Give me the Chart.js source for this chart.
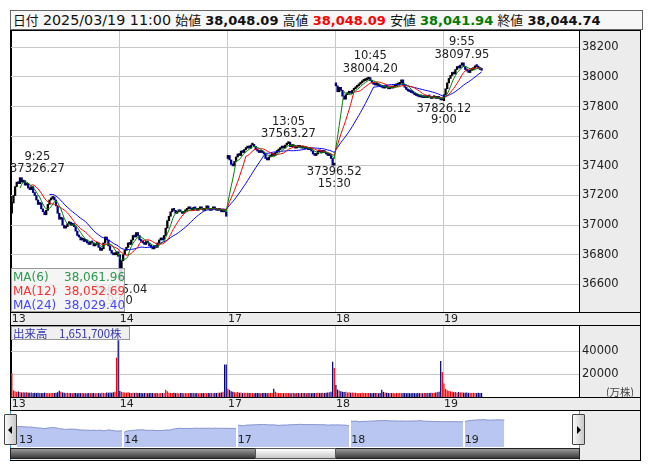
<!DOCTYPE html>
<html><head><meta charset="utf-8">
<script src="https://cdn.jsdelivr.net/npm/chart.js@4.4.1/dist/chart.umd.min.js"></script>
<style>
body{margin:0;width:653px;height:470px;background:#fff;position:relative;overflow:hidden;font-family:"DejaVu Sans","Noto Sans CJK JP",sans-serif;}
.abs{position:absolute;box-sizing:border-box;}
canvas{position:absolute;left:0;top:0;}
#hdr{left:10px;top:10px;width:633px;height:20px;border:1px solid #666;background:#f7f7f7;font-size:13.5px;line-height:18px;padding-left:2px;white-space:nowrap;color:#111;}
#hdr b{font-size:13px;}
.jp{font-family:"Noto Sans CJK JP",sans-serif;font-size:12.8px;}
.dt{font-size:14.3px;}
</style></head><body>
<div id="hdr" class="abs"><span class="jp">日付</span> <span class="dt">2025/03/19 11:00</span> <span class="jp">始値</span> <b>38,048.09</b> <span class="jp">高値</span> <b style="color:#ff0000">38,048.09</b> <span class="jp">安値</span> <b style="color:#007a00">38,041.94</b> <span class="jp">終値</span> <b>38,044.74</b></div>
<div class="abs" style="left:10px;top:30px;width:631px;height:431px;background:#ececec;border:1px solid #000"></div>
<div class="abs" style="left:11px;top:31px;width:568px;height:281px;background:#fff"></div>
<div class="abs" style="left:11px;top:326px;width:568px;height:71px;background:#fff"></div>
<div class="abs" style="left:10px;top:411px;width:570px;height:37px;background:#fff"></div>
<div class="abs" style="left:10px;top:312px;width:631px;height:1px;background:#000"></div>
<div class="abs" style="left:10px;top:325px;width:631px;height:1px;background:#000"></div>
<div class="abs" style="left:10px;top:397px;width:631px;height:1px;background:#000"></div>
<div class="abs" style="left:10px;top:410px;width:631px;height:1px;background:#000"></div>
<div class="abs" style="left:579px;top:411px;width:1px;height:49px;background:#39a0d0"></div>
<div class="abs" style="left:10px;top:411px;width:1px;height:49px;background:#39a0d0"></div>
<canvas id="cMain" width="653" height="470"></canvas>
<canvas id="cVol" width="653" height="470"></canvas>
<canvas id="cNav" width="653" height="470"></canvas>
<div class="abs" style="left:11px;top:268px;width:114px;height:44px;background:rgba(244,244,244,0.88);border:1px solid #999;font-size:12px;line-height:14px;padding:1px 0 0 1px;white-space:nowrap">
<div style="color:#2e9a4e">MA(6)<span style="position:absolute;left:52px">38,061.96</span></div>
<div style="color:#ff3030">MA(12)<span style="position:absolute;left:52px">38,052.69</span></div>
<div style="color:#4646ff">MA(24)<span style="position:absolute;left:52px">38,029.40</span></div>
</div>
<div class="abs" style="left:11px;top:326px;width:119px;height:14px;background:#f0f0f0;border:1px solid #999;font-family:'Noto Sans CJK JP',sans-serif;font-size:11.5px;line-height:12px;color:#3535b0;white-space:nowrap;padding-left:1px">出来高　1,651,700株</div>
<div class="abs" style="left:606px;top:384px;font-family:'Noto Sans CJK JP',sans-serif;font-size:10.5px;color:#444">(万株)</div>
<div class="abs" style="left:10px;top:448px;width:570px;height:11px;background:linear-gradient(#9a9a9a,#3a3a3a);border:1px solid #222"></div>
<div class="abs" style="left:255px;top:448px;width:81px;height:11px;background:linear-gradient(#ffffff,#c8c8c8);border:1px solid #555"></div>
<div class="abs" style="left:4px;top:414px;width:13px;height:31px;background:linear-gradient(90deg,#fafafa,#c8c8c8);border:1px solid #444;border-radius:1px"></div>
<div class="abs" style="left:8px;top:426px;width:0;height:0;border-top:4px solid transparent;border-bottom:4px solid transparent;border-right:4px solid #000"></div>
<div class="abs" style="left:572px;top:414px;width:13px;height:31px;background:linear-gradient(90deg,#fafafa,#c8c8c8);border:1px solid #444;border-radius:1px"></div>
<div class="abs" style="left:577px;top:426px;width:0;height:0;border-top:4px solid transparent;border-bottom:4px solid transparent;border-left:4px solid #000"></div>
<script>
// ---- data ----
const days = ['13','14','17','18','19'];
const dayOpen = [37080, 36800, 37450, 37960, 37840];
const close13 = [37150,37200,37260,37290,37280,37320,37290,37300,37270,37280,37250,37240,37260,37220,37200,37170,37140,37150,37110,37090,37070,37100,37140,37170,37180,37190,37170,37130,37080,37040,37050,37000,36980,36990,37010,37020,37000,37010,36990,36960,36930,36920,36900,36910,36890,36900,36880,36870,36890,36880,36860,36870,36880,36850,36830,36840,36880,36920,36900,36860,36830,36810,36800,36800,36820,36790];
const close14 = [36620,36760,36800,36830,36850,36880,36870,36900,36930,36920,36950,36930,36900,36890,36880,36870,36890,36880,36860,36850,36840,36860,36850,36880,36900,36910,36900,36930,36980,37030,37060,37090,37110,37100,37080,37090,37100,37090,37080,37090,37100,37110,37120,37110,37100,37120,37110,37100,37110,37120,37110,37100,37110,37130,37110,37100,37110,37120,37110,37100,37110,37100,37090,37100,37090,37060];
const close17 = [37470,37440,37410,37400,37430,37460,37480,37470,37500,37490,37510,37520,37530,37520,37540,37545,37530,37510,37500,37490,37500,37490,37480,37450,37440,37460,37470,37480,37470,37490,37500,37510,37520,37530,37520,37540,37550,37560,37530,37530,37535,37520,37530,37525,37530,37520,37525,37515,37520,37510,37520,37500,37480,37470,37480,37500,37495,37490,37500,37490,37480,37470,37475,37450,37405,37410];
const close18 = [37940,37900,37930,37910,37870,37850,37880,37890,37900,37890,37910,37920,37930,37940,37950,37960,37970,37975,37980,37985,37995,37975,37960,37950,37945,37955,37940,37935,37930,37925,37935,37930,37920,37930,37925,37935,37940,37945,37950,37960,37980,37950,37930,37915,37905,37900,37895,37890,37880,37875,37870,37865,37870,37860,37865,37860,37870,37865,37855,37860,37865,37855,37860,37855,37845,37850];
const close19 = [37880,37920,37960,37990,38010,38030,38020,38050,38070,38060,38080,38095,38070,38050,38040,38030,38045,38050,38060,38075,38070,38060,38050,38045];
const vol13 = [20900,5800,5000,4600,4800,4300,4000,4200,3900,4100,3800,3700,4000,3600,3800,3500,3700,3400,3600,3500,3800,3400,3500,3300,3600,3400,3500,3800,4200,5400,4600,4000,3800,3500,3700,3400,3600,3300,3500,3400,3300,3600,3400,3500,3300,3400,3200,3500,3300,3400,3600,3300,3500,3400,3300,3800,3600,3400,3900,3700,4000,3800,4200,4600,34500,49700];
const vol14 = [5200,4500,4200,4000,3800,4100,3700,3600,3800,3500,3700,3400,3600,3500,3300,3500,3400,3300,3600,3400,3500,3300,3400,3500,3300,3600,3500,3400,6400,5000,3800,3600,3500,3800,3400,3600,3300,3500,3400,3300,3500,3400,3300,3600,3400,3500,3300,3400,3200,3400,3300,3500,3400,3300,3600,3400,3500,3300,3600,3500,3800,3700,4000,4500,28500,28500];
const vol17 = [7300,6200,5000,4600,4200,4000,4300,3800,3900,3600,3800,3500,3700,3400,3600,3500,3300,3600,3400,3500,3300,3400,3600,3500,3300,3400,3500,3400,7300,4500,3800,3600,3400,3500,3300,3600,3400,3500,3300,3400,3600,3300,3500,3400,3300,3500,3400,3600,3300,3400,3500,3300,3600,3400,3500,3700,3400,3600,3800,3500,3700,3900,4200,4500,30900,25500];
const vol18 = [10600,6500,5600,5000,4600,4300,4500,4000,4200,3800,3900,3700,3800,3500,3600,3400,3700,3500,3400,3600,3500,3400,3300,3500,3400,3600,3300,3500,6400,4500,4000,3700,3500,3600,3400,3500,3300,3600,3400,3500,3300,3400,3600,3300,3500,3400,3300,3500,3400,3300,3600,3400,3500,3300,3400,3600,3500,3400,3700,3600,3800,4000,4300,4700,31500,21800];
const vol19 = [11800,7200,6000,5500,5000,4600,4200,4400,4000,4300,3900,4100,3800,3700,3900,3600,3800,3500,3700,3600,3400,3700,3500,3600];
const priceTicks = {min:36600, max:38200, step:200};
const volTicks = [20000, 40000];
const maPeriods = [6, 12, 24];
const annTimes  = ['9:25','9:00','13:05','15:30','10:45','9:00','9:55'];
const annPrices = ['37326.27','36605.04','37563.27','37396.52','38004.20','37826.12','38097.95'];
const annDay  = [0,1,2,2,3,4,4];
const annBar  = [5,0,37,65,21,0,11];
const annSide = ['up','down','up','down','up','down','up'];

// ---- build ----
const closeByDay = [close13, close14, close17, close18, close19];
const volByDay = [vol13, vol14, vol17, vol18, vol19];
const TOTAL = 347;
const labels = [], closes = [], opens = [], vols = [], starts = [];
closeByDay.forEach((arr, d) => {
  starts.push(closes.length);
  arr.forEach((c, j) => {
    labels.push(days[d] + '_' + j);
    opens.push(j === 0 ? dayOpen[d] : arr[j - 1]);
    closes.push(c);
    vols.push(volByDay[d][j]);
  });
});
while (labels.length < TOTAL) labels.push('');
const candles = closes.map((c, i) => [opens[i], c]);
const upDown = closes.map((c, i) => c >= opens[i]);
const candleColors = upDown.map(u => u ? '#000000' : '#00008c');
const volColors = upDown.map(u => u ? '#ff0000' : '#000080');
function sma(arr, n) {
  return arr.map((v, i) => {
    if (i < n - 1) return null;
    let s = 0; for (let k = i - n + 1; k <= i; k++) s += arr[k];
    return s / n;
  });
}
const maData = maPeriods.map(p => sma(closes, p));

const dayLabelCb = (v, i) => { const d = starts.indexOf(i); return d >= 0 ? days[d] : ''; };
const xCommon = (gridFn) => ({
  grid: { offset: true, color: gridFn, drawTicks: false, lineWidth: 1 },
  border: { display: false },
  ticks: { autoSkip: false, maxRotation: 0, minRotation: 0, align: 'start', padding: 1,
           font: { family: 'DejaVu Sans', size: 11 }, color: '#222', callback: dayLabelCb },
  afterFit: s => { s.height = 13; }
});
const xGrid = c => (c.index === 0 ? '#000' : (starts.includes(c.index) ? '#c8c8c8' : 'rgba(0,0,0,0)'));

const annPlugin = { id: 'ann', afterDatasetsDraw(chart) {
  const { ctx, chartArea: a, scales: { x, y } } = chart;
  ctx.save();
  ctx.font = '11.5px "DejaVu Sans"'; ctx.fillStyle = '#222'; ctx.textBaseline = 'middle'; ctx.textAlign = 'center';
  annTimes.forEach((t, k) => {
    const idx = starts[annDay[k]] + annBar[k];
    const px = x.getPixelForValue(idx);
    const py = y.getPixelForValue(parseFloat(annPrices[k]));
    const up = annSide[k] === 'up';
    const bw = Math.max(ctx.measureText(annPrices[k]).width, ctx.measureText(t).width);
    const cx = Math.max(a.left - 1 + bw / 2, Math.min(px, a.right - bw / 2));
    ctx.fillText(annPrices[k], cx, py + (up ? -7.5 : 6));
    ctx.fillText(t, cx, py + (up ? -20 : 17.5));
  });
  ctx.restore();
}};

const base = { responsive: false, animation: false, devicePixelRatio: 1, events: [],
  plugins: { legend: { display: false }, tooltip: { enabled: false } } };

const maColors = ['#008000', '#ff0000', '#0000ff'];
new Chart(document.getElementById('cMain'), {
  type: 'bar',
  data: { labels, datasets: [
    ...maData.map((m, k) => ({ type: 'line', data: m, borderColor: maColors[k], borderWidth: 1,
      pointRadius: 0, tension: 0, order: k + 1, spanGaps: false })),
    { type: 'bar', data: candles, backgroundColor: candleColors, barPercentage: 1,
      categoryPercentage: 1, minBarLength: 2, order: 10 }
  ]},
  options: { ...base,
    layout: { padding: { left: 11, top: 31, right: 13, bottom: 145 } },
    scales: {
      x: xCommon(xGrid),
      y: { position: 'right', min: 36414, max: 38310,
        ticks: { stepSize: priceTicks.step, includeBounds: false, padding: 3,
          font: { family: 'DejaVu Sans', size: 11.5 }, color: '#222',
          callback: v => (v >= priceTicks.min && v <= priceTicks.max ? String(v) : '') },
        grid: { color: '#c8c8c8', drawTicks: false },
        border: { display: true, color: '#000' },
        afterFit: s => { s.width = 61; } }
    }
  },
  plugins: [annPlugin]
});

new Chart(document.getElementById('cVol'), {
  type: 'bar',
  data: { labels, datasets: [{ data: vols, backgroundColor: volColors, barPercentage: 0.75, categoryPercentage: 1 }] },
  options: { ...base,
    layout: { padding: { left: 11, top: 326, right: 13, bottom: 60 } },
    scales: {
      x: xCommon(xGrid),
      y: { position: 'right', min: 0, max: 62222,
        afterBuildTicks: s => { s.ticks = volTicks.map(v => ({ value: v })); },
        ticks: { padding: 3, font: { family: 'DejaVu Sans', size: 11.5 }, color: '#222',
          callback: v => String(v) },
        grid: { color: '#c8c8c8', drawTicks: false },
        border: { display: true, color: '#000' },
        afterFit: s => { s.width = 61; } }
    }
  }
});

const navPlugin = { id: 'nav', afterDatasetsDraw(chart) {
  const { ctx, chartArea: a, scales: { x } } = chart;
  ctx.save();
  ctx.font = '11px "DejaVu Sans"'; ctx.textBaseline = 'bottom'; ctx.textAlign = 'left';
  starts.forEach((s, d) => {
    const px = x.getPixelForValue(s - 0.5);
    if (d > 0) { ctx.fillStyle = '#fff'; ctx.fillRect(Math.round(px) - 1, a.top, 2, a.bottom - a.top); }
    ctx.fillStyle = '#222';
    ctx.fillText(days[d], Math.max(a.left + 2, px + 1), a.bottom - 1);
  });
  ctx.restore();
}};
new Chart(document.getElementById('cNav'), {
  type: 'line',
  data: { datasets: [{ data: closes.map((c, i) => ({ x: i, y: c })), borderColor: '#8390cc', borderWidth: 1,
    backgroundColor: '#bac6f2', fill: 'start', pointRadius: 0, tension: 0 }] },
  options: { ...base,
    layout: { padding: { left: 17, top: 412, right: 73, bottom: 23 } },
    scales: {
      x: { type: 'linear', min: 3.8, max: 331, display: false },
      y: { min: 34980, max: 38960, display: false }
    }
  },
  plugins: [navPlugin]
});
</script>
</body></html>
